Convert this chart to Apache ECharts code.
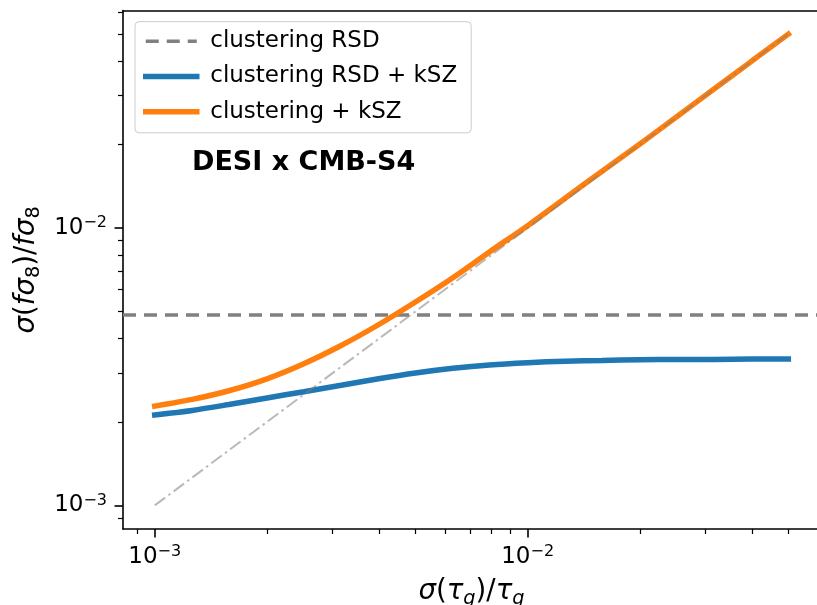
<!DOCTYPE html>
<html><head><meta charset="utf-8">
<script src="https://cdn.jsdelivr.net/npm/echarts@6/dist/echarts.min.js"></script>
<style>html,body{margin:0;padding:0;background:#fff;overflow:hidden;width:817px;height:605px}#c{width:830px;height:605px}</style>
</head><body><div id="c"></div>
<script>
// ---- data ----
const xValues = [0.001, 0.00126, 0.00158, 0.002, 0.00251, 0.00316, 0.00398, 0.005, 0.0063, 0.0079,
                 0.01, 0.0126, 0.0158, 0.02, 0.0251, 0.0316, 0.0398, 0.05];
const rsdKszValues = [0.00212, 0.00220, 0.00231, 0.00244, 0.00257, 0.00271, 0.00286, 0.00300, 0.00312, 0.00321,
                      0.00327, 0.00331, 0.00333, 0.00335, 0.00336, 0.00336, 0.00337, 0.00337];
const clusteringKszValues = [0.00228, 0.00241, 0.00259, 0.00286, 0.00324, 0.00377, 0.00448, 0.00541, 0.00662, 0.0082,
                             0.0102, 0.0128, 0.0160, 0.0201, 0.0252, 0.0317, 0.0399, 0.0500];
const refLineX = [0.001, 0.05];
const refLineY = [0.001, 0.05];
const rsdLevel = 0.00486;
const axisRange = [0.000822, 0.0608];
const majorTicks = [0.001, 0.01];
const minorTicks = [0.0009, 0.002, 0.003, 0.004, 0.005, 0.006, 0.007, 0.008, 0.009, 0.02, 0.03, 0.04, 0.05, 0.06];
const legendNames = ['clustering RSD', 'clustering RSD + kSZ', 'clustering + kSZ'];
const annotation = 'DESI x CMB-S4';

// ---- chart ----
const FONT = 'DejaVu Sans';
const chart = echarts.init(document.getElementById('c'), null, {renderer: 'canvas'});
const pairs = (xs, ys) => xs.map((x, i) => [x, ys[i]]);
const expLabel = v => {
  const e = Math.round(Math.log10(v));
  return '{b|10}{s|' + (e < 0 ? '\u2212' : '') + Math.abs(e) + '}';
};
const tickRich = {
  b: {fontSize: 23, fontFamily: FONT, color: '#000'},
  s: {fontSize: 16, fontFamily: FONT, color: '#000', padding: [0, 0, 10, 0]}
};
const nameRich = {
  i: {fontSize: 27.6, fontFamily: FONT, fontStyle: 'italic', color: '#000'},
  r: {fontSize: 27.6, fontFamily: FONT, color: '#000'},
  s: {fontSize: 19.3, fontFamily: FONT, color: '#000', padding: [14, 0, 0, 0]},
  si: {fontSize: 19.3, fontFamily: FONT, fontStyle: 'italic', color: '#000', padding: [14, 0, 0, 0]}
};
const lineAxis = {color: '#000', width: 1.6};

function mainAxis(pos, name, gap, rotate) {
  return {
    type: 'log', gridIndex: 0, position: pos, min: axisRange[0], max: axisRange[1],
    axisLine: {show: true, onZero: false, lineStyle: lineAxis},
    axisTick: {show: true, customValues: majorTicks, length: 8.5, lineStyle: lineAxis},
    axisLabel: {show: true, customValues: majorTicks, formatter: expLabel, margin: pos === 'left' ? 16 : 15,
                fontSize: 23, fontFamily: FONT, color: '#000', rich: tickRich},
    splitLine: {show: false}, minorTick: {show: false},
    name: name, nameLocation: 'middle', nameGap: gap, nameRotate: rotate,
    nameTextStyle: {fontSize: 27.6, fontFamily: FONT, color: '#000', rich: nameRich}
  };
}
function minorAxis(pos) {
  return {
    type: 'log', gridIndex: 0, position: pos, min: axisRange[0], max: axisRange[1],
    axisLine: {show: false, onZero: false},
    axisTick: {show: true, customValues: minorTicks, length: 5, lineStyle: {color: '#000', width: 1.2}},
    axisLabel: {show: false}, splitLine: {show: false}
  };
}
function frameAxis(pos) {
  return {
    type: 'log', gridIndex: 0, position: pos, min: axisRange[0], max: axisRange[1],
    axisLine: {show: true, onZero: false, lineStyle: lineAxis},
    axisTick: {show: false}, axisLabel: {show: false}, splitLine: {show: false}
  };
}

const option = {
  animation: false,
  backgroundColor: '#fff',
  grid: {left: 123, right: 10, top: 10.6, bottom: 76, show: false,
         containLabel: false, outerBoundsMode: 'none'},
  xAxis: [mainAxis('bottom', '{i|σ}{r|(}{i|τ}{si|g}{r|)/}{i|τ}{si|g}', 46, 0), minorAxis('bottom'), frameAxis('top')],
  yAxis: [mainAxis('left', '{i|σ}{r|(}{i|fσ}{s|8}{r|)/}{i|fσ}{s|8}', 72, 90), minorAxis('left')],
  legend: {
    data: [
      {name: legendNames[0], lineStyle: {width: 3.5}},
      {name: legendNames[1], lineStyle: {width: 5.5}},
      {name: legendNames[2], lineStyle: {width: 5.5}}
    ],
    orient: 'vertical', left: 135, top: 21.7,
    padding: [8, 14, 9.5, 8], itemGap: 12.3, itemWidth: 51, itemHeight: 22,
    itemStyle: {opacity: 0},
    backgroundColor: 'rgba(255,255,255,0.8)', borderColor: '#cccccc', borderWidth: 1, borderRadius: 4,
    textStyle: {fontSize: 23, fontFamily: FONT, color: '#000', lineHeight: 22, padding: [0, 0, 0, 8.5]}
  },
  graphic: [{
    type: 'text', x: 192, y: 163, z: 10,
    style: {text: annotation, fontSize: 27, fontWeight: 'bold', fontFamily: FONT, fill: '#000',
            align: 'left', verticalAlign: 'middle'}
  }],
  series: [
    {
      name: legendNames[0], type: 'line', xAxisIndex: 0, yAxisIndex: 0,
      data: pairs(axisRange, [rsdLevel, rsdLevel]),
      symbol: 'none', showSymbol: false, silent: true,
      lineStyle: {color: '#808080', width: 3.5, type: [13, 8]},
      itemStyle: {color: '#808080'}
    },
    {
      name: legendNames[1], type: 'line', xAxisIndex: 0, yAxisIndex: 0,
      data: pairs(xValues, rsdKszValues), smooth: 0.3, symbol: 'none', showSymbol: false,
      lineStyle: {color: '#1f77b4', width: 5.5, cap: 'square'}, itemStyle: {color: '#1f77b4'}
    },
    {
      name: legendNames[2], type: 'line', xAxisIndex: 0, yAxisIndex: 0,
      data: pairs(xValues, clusteringKszValues), smooth: 0.3, symbol: 'none', showSymbol: false,
      lineStyle: {color: '#ff7f0e', width: 5.5, cap: 'square'}, itemStyle: {color: '#ff7f0e'}
    },
    {
      name: 'reference', type: 'line', xAxisIndex: 0, yAxisIndex: 0, silent: true,
      data: pairs(refLineX, refLineY), symbol: 'none', showSymbol: false,
      lineStyle: {color: 'rgba(128,128,128,0.55)', width: 2, type: [13, 4, 2.5, 4]}
    }
  ]
};
chart.setOption(option);
</script>
</body></html>
